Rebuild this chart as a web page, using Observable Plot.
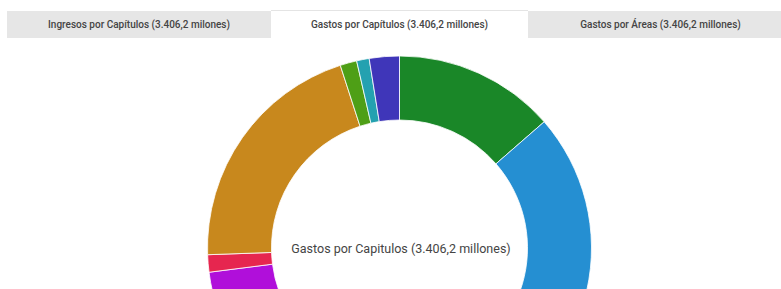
<!DOCTYPE html>
<html><head><meta charset="utf-8">
<script src="https://cdn.jsdelivr.net/npm/d3@7"></script>
<script src="https://cdn.jsdelivr.net/npm/@observablehq/plot@0.6"></script>
<style>
html,body{margin:0;padding:0;background:#fff;overflow:hidden;width:781px;height:289px;font-family:Roboto,sans-serif;}
#tabs{position:absolute;left:0;top:0;width:781px;height:40px;}
.tab{position:absolute;top:11px;height:27px;line-height:27px;text-align:center;font-size:10px;font-weight:500;color:#444;background:#e6e6e6;white-space:nowrap;overflow:hidden;}
.tab.active{background:#fff;top:10px;height:28px;border-top:1px solid #e4e4e4;}
#chart{position:absolute;left:0;top:40px;width:799px;}
#chart svg{max-width:none !important;}
</style></head>
<body>
<div id="tabs"></div>
<div id="chart"></div>
<script>
// Tabs
const tabLabels = ["Ingresos por Capítulos (3.406,2 milones)", "Gastos por Capítulos (3.406,2 millones)", "Gastos por Áreas (3.406,2 millones)"];
const activeTab = 1;
// Donut data (millones de euros), clockwise from the top
const categories = ["Gastos de personal", "Gastos en bienes corrientes y servicios", "Gastos financieros", "Transferencias corrientes", "Fondo de contingencia", "Inversiones reales", "Transferencias de capital", "Activos financieros", "Pasivos financieros"];
const values = [462.7, 1021.9, 40.9, 960.5, 49.7, 700.6, 47.8, 36.0, 86.1];
const colors = ["#1a8728", "#258fd2", "#dd4477", "#b00fda", "#e6264f", "#c8881d", "#4e9f16", "#24a1b0", "#3f36b9"];
const centerLabel = "Gastos por Capitulos (3.406,2 millones)";

// tabs layout
const tabBox = [[7, 264], [271, 257], [528, 265]];
const tabsEl = document.getElementById("tabs");
tabLabels.forEach((t, i) => {
  const d = document.createElement("div");
  d.className = "tab" + (i === activeTab ? " active" : "");
  d.style.left = tabBox[i][0] + "px";
  d.style.width = tabBox[i][1] + "px";
  d.textContent = t;
  tabsEl.appendChild(d);
});

const data = categories.map((c, i) => ({category: c, value: values[i]}));
const color = d3.scaleOrdinal(categories, colors);

const donut = (index, scales, vals, dims) => {
  const pie = d3.pie().sort(null).value(d => d.value).startAngle(0).endAngle(2 * Math.PI);
  const arc = d3.arc().innerRadius(128).outerRadius(192);
  const g = d3.create("svg:g").attr("transform", `translate(${dims.width / 2},${dims.height / 2})`);
  g.selectAll("path").data(pie(data)).join("path")
    .attr("d", arc)
    .attr("fill", d => color(d.data.category))
    .attr("stroke", "#fff")
    .attr("stroke-opacity", 0.8)
    .attr("stroke-width", 1);
  return g.node();
};

const chart = Plot.plot({
  width: 799,
  height: 416,
  margin: 0,
  style: {background: "transparent", fontFamily: "Roboto, sans-serif", maxWidth: "none"},
  marks: [
    donut,
    Plot.text([centerLabel], {text: d => d, frameAnchor: "middle", dx: 1, fontSize: 12.5, fill: "#444"})
  ]
});
document.getElementById("chart").appendChild(chart);
</script>
</body></html>
